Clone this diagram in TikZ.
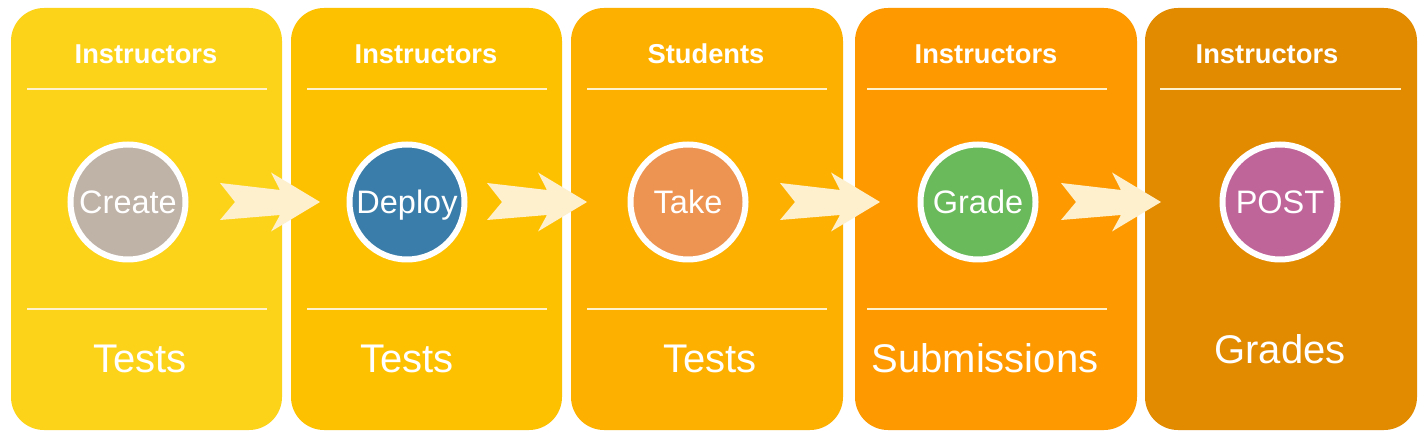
\documentclass[tikz,border=0pt]{standalone}
\usepackage{fontspec}
\setmainfont{Liberation Sans}
\definecolor{cA}{HTML}{FDD319}
\definecolor{cB}{HTML}{FEC100}
\definecolor{cC}{HTML}{FDB000}
\definecolor{cD}{HTML}{FE9A00}
\definecolor{cE}{HTML}{E28A00}
\definecolor{kCreate}{HTML}{BFB2A7}
\definecolor{kDeploy}{HTML}{3A7DAA}
\definecolor{kTake}{HTML}{EE9452}
\definecolor{kGrade}{HTML}{6AB95B}
\definecolor{kPost}{HTML}{BF659A}
\definecolor{arrowfill}{HTML}{FEF0CC}
\definecolor{sepline}{HTML}{FFF2CC}
\begin{document}
\begin{tikzpicture}[x=1pt,y=-1pt,
  panel/.style={rounded corners=33pt, minimum width=#1, minimum height=422pt, inner sep=0pt, draw=none},
  role/.style={anchor=base, text=white, font=\fontsize{27.3}{27}\selectfont\bfseries},
  thing/.style={anchor=base, text=white, font=\fontsize{40}{40}\selectfont},
  stage/.style={circle, draw=white, line width=6pt, minimum size=115pt, inner sep=0pt,
    text=white, font=\fontsize{32.5}{32}\selectfont, text height=23.2pt, text depth=0pt},
  sep/.style={draw=sepline, line width=2pt},
  chevron/.pic={\fill[arrowfill] (-100,-19) -- (-40,-12) -- (-49,-29.5) -- (0,0) -- (-49,29.5) -- (-40,13) -- (-100,18) -- (-85,0) -- cycle;}
]
\fill[white] (0,0) rectangle (1425,438);
\useasboundingbox (0,0) rectangle (1425,438);

% panels
\node[panel=271pt, fill=cA] (b1) at (146.5,219) {};
\node[panel=271pt, fill=cB] (b2) at (426.5,219) {};
\node[panel=272pt, fill=cC] (b3) at (707,219) {};
\node[panel=282pt, fill=cD] (b4) at (996,219) {};
\node[panel=272pt, fill=cE] (b5) at (1281,219) {};

% separator lines
\coordinate (l1a) at (27,89);   \coordinate (l1b) at (267,89);
\coordinate (l2a) at (307,89);  \coordinate (l2b) at (547,89);
\coordinate (l3a) at (587,89);  \coordinate (l3b) at (827,89);
\coordinate (l4a) at (867,89);  \coordinate (l4b) at (1107,89);
\coordinate (l5a) at (1160,89); \coordinate (l5b) at (1401,89);
\coordinate (m1a) at (27,309);  \coordinate (m1b) at (267,309);
\coordinate (m2a) at (307,309); \coordinate (m2b) at (547,309);
\coordinate (m3a) at (587,309); \coordinate (m3b) at (827,309);
\coordinate (m4a) at (867,309); \coordinate (m4b) at (1107,309);
\draw[sep] (l1a) -- (l1b);
\draw[sep] (l2a) -- (l2b);
\draw[sep] (l3a) -- (l3b);
\draw[sep] (l4a) -- (l4b);
\draw[sep] (l5a) -- (l5b);
\draw[sep] (m1a) -- (m1b);
\draw[sep] (m2a) -- (m2b);
\draw[sep] (m3a) -- (m3b);
\draw[sep] (m4a) -- (m4b);

% headers
\node[role] (h1) at (146,64) {Instructors};
\node[role] (h2) at (426,64) {Instructors};
\node[role] (h3) at (706,64) {Students};
\node[role] (h4) at (986,64) {Instructors};
\node[role] (h5) at (1267,64) {Instructors};

% bottom labels
\node[thing] (t1) at (140,373) {Tests};
\node[thing] (t2) at (407,373) {Tests};
\node[thing] (t3) at (710,373) {Tests};
\node[thing] (t4) at (985,373) {Submissions};
\node[thing] (t5) at (1280,363) {Grades};

% arrows
\coordinate (a1) at (320,202);
\coordinate (a2) at (587,202);
\coordinate (a3) at (880,202);
\coordinate (a4) at (1161,202);
\pic at (a1) {chevron};
\pic at (a2) {chevron};
\pic at (a3) {chevron};
\pic at (a4) {chevron};

% stages
\node[stage, fill=kCreate] (s1) at (128,202) {Create};
\node[stage, fill=kDeploy] (s2) at (407,202) {Deploy};
\node[stage, fill=kTake] (s3) at (688,202) {Take};
\node[stage, fill=kGrade] (s4) at (978,202) {Grade};
\node[stage, fill=kPost] (s5) at (1280,202) {POST};
\end{tikzpicture}
\end{document}
